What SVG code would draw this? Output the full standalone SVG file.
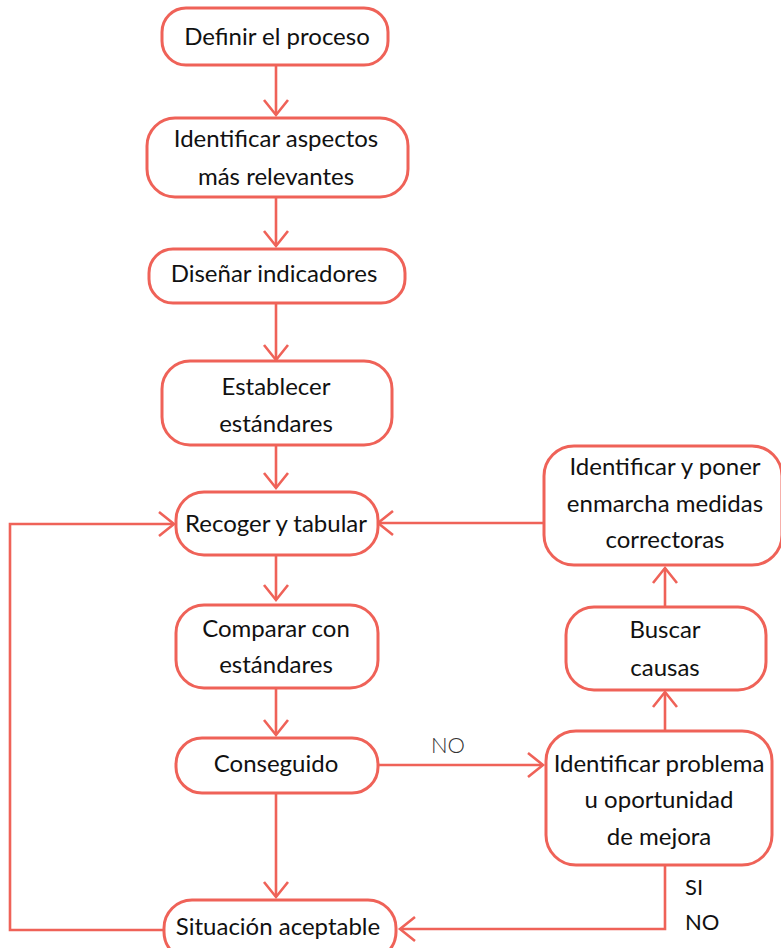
<svg xmlns="http://www.w3.org/2000/svg" width="781" height="948" viewBox="0 0 781 948">
<style>
.box{fill:#fff;stroke:#ef6258;stroke-width:3}
.t{font-family:Lato,"Liberation Sans",sans-serif;font-size:24px;fill:#111;text-anchor:middle}
.c{fill:none;stroke:#ef6258;stroke-width:2.6}
.lbl{font-family:Lato,"Liberation Sans",sans-serif;font-size:22px;fill:#111}
</style>
<defs>
<marker id="ah" markerUnits="userSpaceOnUse" markerWidth="40" markerHeight="40" viewBox="-20 -20 40 40" refX="0" refY="0" orient="auto" overflow="visible">
<path d="M-15,-12 L0,0 L-15,12" fill="none" stroke="#ef6258" stroke-width="2.6"/>
</marker>
</defs>
<rect width="781" height="948" fill="#fff"/>
<g id="connectors">
<path class="c" d="M276,65 V115" marker-end="url(#ah)"/>
<path class="c" d="M276,197 V246" marker-end="url(#ah)"/>
<path class="c" d="M276,303 V360" marker-end="url(#ah)"/>
<path class="c" d="M276,445 V488" marker-end="url(#ah)"/>
<path class="c" d="M276,555 V600" marker-end="url(#ah)"/>
<path class="c" d="M276,688 V735" marker-end="url(#ah)"/>
<path class="c" d="M276,793 V897" marker-end="url(#ah)"/>
<path class="c" d="M378,765 H543" marker-end="url(#ah)"/>
<path class="c" d="M665,731 V692" marker-end="url(#ah)"/>
<path class="c" d="M665,607 V568" marker-end="url(#ah)"/>
<path class="c" d="M543,523 H378" marker-end="url(#ah)"/>
<path class="c" d="M665,865 V929 H400" marker-end="url(#ah)"/>
<path class="c" d="M164,930 H10 V524 H174" marker-end="url(#ah)"/>
<text x="448" y="753" style="font-family:Lato,'Liberation Sans',sans-serif;font-size:22px;font-weight:300;fill:#333;text-anchor:middle">NO</text>
<text class="lbl" x="685" y="895">SI</text>
<text class="lbl" x="685" y="930">NO</text>
</g>
<g id="n1"><rect class="box" x="162" y="8" width="226" height="57" rx="24"/><text class="t" x="277" y="45">Definir el proceso</text></g>
<g id="n2"><rect class="box" x="147" y="118" width="261" height="79" rx="28"/><text class="t" x="276" y="147">Identificar aspectos</text><text class="t" x="276" y="185">más relevantes</text></g>
<g id="n3"><rect class="box" x="149" y="249" width="256" height="54" rx="24"/><text class="t" x="274" y="282">Diseñar indicadores</text></g>
<g id="n4"><rect class="box" x="162" y="361" width="230" height="84" rx="28"/><text class="t" x="276" y="395">Establecer</text><text class="t" x="276" y="432">estándares</text></g>
<g id="n5"><rect class="box" x="176" y="492" width="202" height="63" rx="28"/><text class="t" x="276" y="532">Recoger y tabular</text></g>
<g id="n6"><rect class="box" x="176" y="605" width="202" height="83" rx="28"/><text class="t" x="276" y="637">Comparar con</text><text class="t" x="276" y="673">estándares</text></g>
<g id="n7"><rect class="box" x="176" y="738" width="202" height="55" rx="26"/><text class="t" x="276" y="772">Conseguido</text></g>
<g id="n8"><rect class="box" x="164" y="900" width="232" height="60" rx="28"/><text class="t" x="278" y="935">Situación aceptable</text></g>
<g id="nA"><rect class="box" x="544" y="446" width="238" height="119" rx="30"/><text class="t" x="665" y="475">Identificar y poner</text><text class="t" x="665" y="512">enmarcha medidas</text><text class="t" x="665" y="548">correctoras</text></g>
<g id="nB"><rect class="box" x="566" y="607" width="200" height="83" rx="28"/><text class="t" x="665" y="638">Buscar</text><text class="t" x="665" y="676">causas</text></g>
<g id="nC"><rect class="box" x="546" y="731" width="226" height="134" rx="30"/><text class="t" x="659" y="772">Identificar problema</text><text class="t" x="659" y="808">u oportunidad</text><text class="t" x="659" y="845">de mejora</text></g>
</svg>
